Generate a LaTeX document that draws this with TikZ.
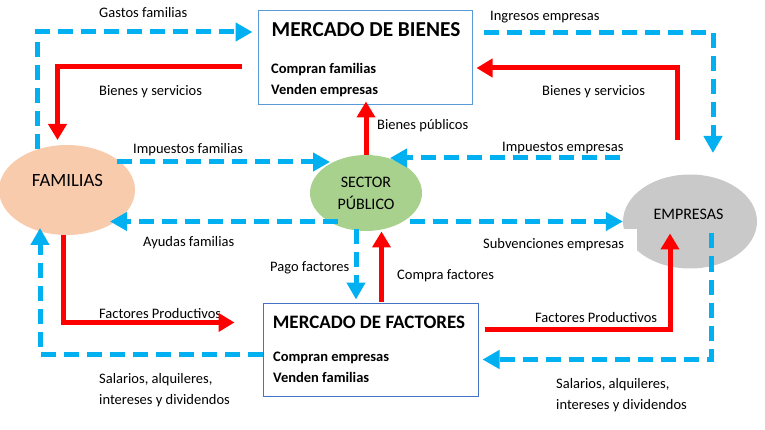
\documentclass[tikz,border=0pt]{standalone}
\usepackage{fontspec}
\setmainfont{Carlito}
\usepackage{tikz}
\usetikzlibrary{shapes}
\usetikzlibrary{arrows.meta}
\definecolor{azulflujo}{RGB}{0,176,240}
\definecolor{rojoflujo}{RGB}{255,0,0}
\definecolor{piel}{RGB}{248,203,173}
\definecolor{verde}{RGB}{169,209,142}
\definecolor{gris}{RGB}{201,201,201}
\definecolor{bordeA}{RGB}{91,155,213}
\definecolor{bordeB}{RGB}{68,114,196}
\tikzstyle{mercado}=[rectangle,draw,line width=1pt,fill=white]
\tikzstyle{agente}=[ellipse,draw=none,inner sep=0pt]
\tikzstyle{etiq}=[inner sep=0pt,anchor=base west,align=left,font=\fontsize{14.5}{21}\selectfont]
\tikzstyle{titulo}=[inner sep=0pt,anchor=base,font=\fontsize{21.3}{25}\selectfont\bfseries]

\begin{document}
\begin{tikzpicture}
	[x=1pt,y=-1pt,font=\fontsize{14.5}{21}\selectfont]
	\tikzstyle{real}=[rojoflujo,line width=5pt,-{Triangle[length=16pt,width=18pt]}];
	\tikzstyle{dinero}=[azulflujo,line width=5pt,dash pattern=on 15pt off 8pt,-{Triangle[length=17pt,width=18pt]}];
	\useasboundingbox (0,0) rectangle (765,430);
	\node (bienes) [mercado,draw=bordeA,minimum width=214pt,minimum height=94pt] at (365,58) {};
	\node (factores) [mercado,draw=bordeB,minimum width=215pt,minimum height=93pt] at (370.5,349.5) {};
	\node (familias) [agente,fill=piel,minimum width=136pt,minimum height=90pt] at (67,190) {};
	\node (sector) [agente,fill=verde,minimum width=112pt,minimum height=76pt,align=center,font=\fontsize{16}{22}\selectfont] at (366,193) {SECTOR\\PÚBLICO};
	\node (empresas) [agente,fill=gris,minimum width=134pt,minimum height=94pt] at (690,221.5) {};
	\node (tfamilias) [anchor=base,font=\fontsize{18.7}{22}\selectfont] at (67.5,187) {FAMILIAS};
	\node (tempresas) [anchor=base,font=\fontsize{16}{22}\selectfont] at (688.5,220) {EMPRESAS};
	\node (tbienes) [titulo] at (366,37) {MERCADO DE BIENES};
	\node (cbienes) [etiq,font=\fontsize{14.5}{21}\selectfont\bfseries] at (271,95) {Compran familias\\Venden empresas};
	\node (tfactores) [titulo,font=\fontsize{19}{23}\selectfont\bfseries] at (369,328) {MERCADO DE FACTORES};
	\node (cfactores) [etiq,font=\fontsize{14.5}{21}\selectfont\bfseries] at (273,382) {Compran empresas\\Venden familias};
	\node (lgastos) [etiq] at (99,18) {Gastos familias};
	\node (lbienes1) [etiq] at (99,96) {Bienes y servicios};
	\node (lingresos) [etiq] at (490,21) {Ingresos empresas};
	\node (lbienes2) [etiq] at (542,96) {Bienes y servicios};
	\node (lpublicos) [etiq] at (377,130) {Bienes públicos};
	\node (limpfam) [etiq] at (133,154) {Impuestos familias};
	\node (limpemp) [etiq] at (502,152) {Impuestos empresas};
	\node (layudas) [etiq] at (143,247) {Ayudas familias};
	\node (lsubv) [etiq,fill=white,inner xsep=13pt,inner ysep=10pt] at (470,249) {Subvenciones empresas};
	\node (lpago) [etiq] at (270,271) {Pago factores};
	\node (lcompra) [etiq] at (397,279) {Compra factores};
	\node (lfactores1) [etiq] at (99,318) {Factores Productivos};
	\node (lfactores2) [etiq] at (535,322) {Factores Productivos};
	\node (lsalarios1) [etiq] at (99,404) {Salarios, alquileres,\\intereses y dividendos};
	\node (lsalarios2) [etiq] at (556,409) {Salarios, alquileres,\\intereses y dividendos};
	\draw[dinero] ([shift={(-30,-41)}]familias.center) |- ([shift={(-5,-26)}]bienes.west);
	\draw[real] ([shift={(-16,9)}]bienes.west) -| ([shift={(-9.5,-50)}]familias.center);
	\draw[dinero] ([shift={(11,-25)}]bienes.east) -| ([shift={(23,-68.5)}]empresas.center);
	\draw[real] ([shift={(-13,-81.5)}]empresas.center) |- ([shift={(4,10)}]bienes.east);
	\draw[real,shorten >=-4pt] (sector.north) -- (sector.north |- bienes.south);
	\draw[dinero] ([shift={(50,-28)}]familias.center) -- ([shift={(-36,-31)}]sector.center);
	\draw[dinero] ([shift={(-70,-63.5)}]empresas.center) -- ([shift={(24,-35)}]sector.center);
	\draw[dinero] ([shift={(-28,28.5)}]sector.center) -- ([shift={(43,31.5)}]familias.center);
	\draw[dinero] ([shift={(44,28.5)}]sector.center) -- (empresas.west);
	\draw[dinero] ([shift={(-10,36)}]sector.center) -- ([shift={(-14.5,-3)}]factores.north);
	\draw[real] ([shift={(11,-1)}]factores.north) -- ++(0,-70);
	\draw[real] ([shift={(-4,45)}]familias.center) |- ([shift={(-28,-27)}]factores.west);
	\draw[dinero] ([shift={(0,5)}]factores.west) -| ([shift={(-27,38)}]familias.center);
	\draw[real] ([shift={(6,-20)}]factores.east) -| ([shift={(-20,12)}]empresas.center);
	\draw[dinero] ([shift={(21,12)}]empresas.center) |- ([shift={(4,10)}]factores.east);
\end{tikzpicture}
\end{document}
